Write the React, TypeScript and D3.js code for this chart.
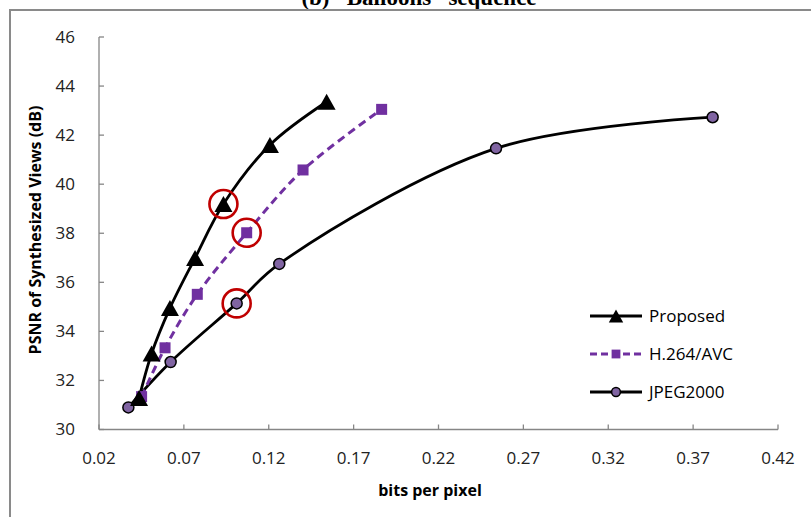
import React from "react";
import * as d3 from "d3";

const W = 811;
const H = 517;

const xTicks = [0.02, 0.07, 0.12, 0.17, 0.22, 0.27, 0.32, 0.37, 0.42];
const yTicks = [30, 32, 34, 36, 38, 40, 42, 44, 46];

const proposedX = [0.0436, 0.051, 0.0618, 0.0766, 0.0933, 0.1207, 0.1541];
const proposedY = [31.28, 33.1, 34.95, 36.99, 39.19, 41.6, 43.36];

const h264X = [0.0451, 0.0589, 0.0779, 0.107, 0.1402, 0.1865];
const h264Y = [31.34, 33.33, 35.51, 38.02, 40.58, 43.05];

const jpegX = [0.0373, 0.0622, 0.1011, 0.1262, 0.2539, 0.3815];
const jpegY = [30.9, 32.75, 35.14, 36.75, 41.46, 42.73];

const seriesNames = ["Proposed", "H.264/AVC", "JPEG2000"];
const highlightIndex = [4, 3, 2];

const TITLE = "(b) \u201CBalloons\u201D sequence";
const X_TITLE = "bits per pixel";
const Y_TITLE = "PSNR of Synthesized Views (dB)";

const FONT = "'Open Sans', 'Noto Sans', sans-serif";

const x = d3.scaleLinear().domain([0.02, 0.42]).range([99, 778]);
const y = d3.scaleLinear().domain([30, 46]).range([429.5, 37]);

const line = d3
  .line<[number, number]>()
  .x((d) => x(d[0]))
  .y((d) => y(d[1]))
  .curve(d3.curveCatmullRom.alpha(0.5));

const zip = (a: number[], b: number[]) => a.map((v, i) => [v, b[i]] as [number, number]);

const series = [
  { name: seriesNames[0], pts: zip(proposedX, proposedY), color: "#000", dash: "", marker: "tri" },
  { name: seriesNames[1], pts: zip(h264X, h264Y), color: "#7030a0", dash: "8,5", marker: "sq" },
  { name: seriesNames[2], pts: zip(jpegX, jpegY), color: "#000", dash: "", marker: "circ" },
];

function Marker({ type, cx, cy, scale = 1 }: { type: string; cx: number; cy: number; scale?: number }) {
  if (type === "tri") {
    const w = 18 * scale;
    const h = 16 * scale;
    const p = `M${cx},${cy - h / 2}L${cx + w / 2},${cy + h / 2}L${cx - w / 2},${cy + h / 2}Z`;
    return <path d={p} fill="#000" />;
  }
  if (type === "sq") {
    const s = 11 * scale;
    return <rect x={cx - s / 2} y={cy - s / 2} width={s} height={s} fill="#7030a0" />;
  }
  return <circle cx={cx} cy={cy} r={5.5 * scale} fill="#8064a2" stroke="#000" strokeWidth={1.5} />;
}

export default function App() {
  const legendY = [316, 354, 392];
  return (
    <svg
      width={W}
      height={H}
      style={{ position: "absolute", left: 0, top: 0, background: "#fff" }}
    >
      <rect x={0} y={0} width={W} height={H} fill="#fff" />
      <text
        x={419}
        y={5}
        textAnchor="middle"
        fontFamily="'Liberation Serif', 'Times New Roman', serif"
        fontWeight="bold"
        fontSize={23}
        fill="#000"
      >
        {TITLE}
      </text>
      <rect x={10} y={10} width={W + 10} height={H + 10} fill="none" stroke="#8a8a8a" strokeWidth={2} />

      {/* axes */}
      <line x1={99} x2={99} y1={y(46)} y2={y(30)} stroke="#868686" strokeWidth={1.3} />
      <line x1={99} x2={x(0.42)} y1={y(30)} y2={y(30)} stroke="#868686" strokeWidth={1.3} />
      {yTicks.map((t) => (
        <g key={"y" + t}>
          <line x1={99} x2={104} y1={y(t)} y2={y(t)} stroke="#868686" strokeWidth={1.3} />
          <text
            x={75}
            y={y(t)}
            dy="0.35em"
            textAnchor="end"
            fontFamily={FONT}
            fontSize={17}
            fill="#222"
          >
            {t}
          </text>
        </g>
      ))}
      {xTicks.map((t) => (
        <g key={"x" + t}>
          <line x1={x(t)} x2={x(t)} y1={y(30)} y2={y(30) - 5} stroke="#868686" strokeWidth={1.3} />
          <text
            x={x(t)}
            y={458}
            dy="0.35em"
            textAnchor="middle"
            fontFamily={FONT}
            fontSize={17}
            fill="#222"
          >
            {t.toFixed(2)}
          </text>
        </g>
      ))}
      <text
        x={430}
        y={490}
        dy="0.35em"
        textAnchor="middle"
        fontFamily={FONT}
        fontWeight="bold"
        fontSize={16}
        fill="#000"
      >
        {X_TITLE}
      </text>
      <text
        transform={`translate(35,230) rotate(-90)`}
        textAnchor="middle"
        dy="0.35em"
        fontFamily={FONT}
        fontWeight="bold"
        fontSize={16}
        fill="#000"
      >
        {Y_TITLE}
      </text>

      {/* series lines */}
      {series
        .slice()
        .reverse()
        .map((s) => (
          <path
            key={"l" + s.name}
            d={line(s.pts) || ""}
            fill="none"
            stroke={s.color}
            strokeWidth={s.dash ? 3 : 2.8}
            strokeDasharray={s.dash || undefined}
          />
        ))}
      {series
        .slice()
        .reverse()
        .map((s) =>
          s.pts.map((p, i) => (
            <Marker key={s.name + i} type={s.marker} cx={x(p[0])} cy={y(p[1])} />
          ))
        )}

      {/* highlight rings */}
      {series.map((s, k) => {
        const p = s.pts[highlightIndex[k]];
        return (
          <circle
            key={"ring" + k}
            cx={x(p[0])}
            cy={y(p[1])}
            r={14}
            fill="none"
            stroke="#c00000"
            strokeWidth={2.6}
          />
        );
      })}

      {/* legend */}
      {series.map((s, k) => (
        <g key={"lg" + s.name}>
          <line
            x1={590}
            x2={642}
            y1={legendY[k]}
            y2={legendY[k]}
            stroke={s.color}
            strokeWidth={2.8}
            strokeDasharray={s.dash ? "7,4" : undefined}
          />
          <Marker type={s.marker} cx={616} cy={legendY[k]} scale={0.8} />
          <text
            x={649}
            y={legendY[k]}
            dy="0.35em"
            fontFamily={FONT}
            fontSize={17}
            fill="#000"
          >
            {s.name}
          </text>
        </g>
      ))}
    </svg>
  );
}
